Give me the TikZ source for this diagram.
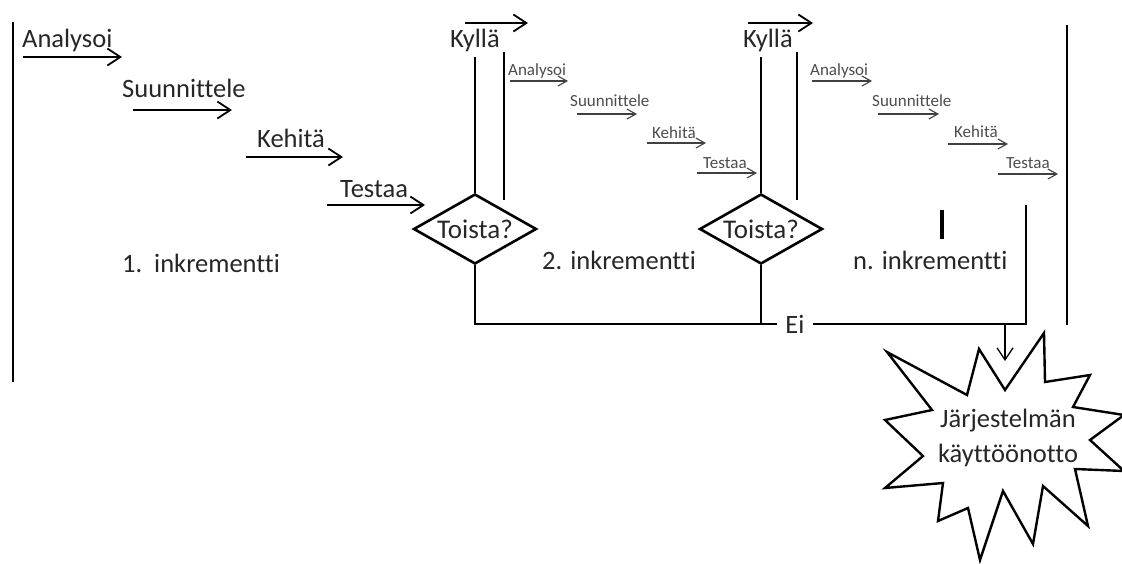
\documentclass[tikz,border=0pt]{standalone}
\usepackage{fontspec}
\setmainfont{Carlito}[Ligatures={NoCommon}]
\usetikzlibrary{arrows.meta,shapes.geometric}
\begin{document}
\begin{tikzpicture}[x=1pt,y=-1pt,
  big/.style={font=\fontsize{26.5}{30}\selectfont, text=black!85, inner sep=0pt, anchor=base west},
  small/.style={font=\fontsize{17}{19}\selectfont, text=black!70, inner sep=0pt, anchor=base west},
  bigarrow/.style={line width=1.8pt, -{Straight Barb[length=13pt,width=17pt]}},
  smallarrow/.style={line width=1.1pt, draw=black!75, -{Straight Barb[length=9pt,width=10pt]}},
  conn/.style={line width=1.8pt},
  dia/.style={diamond, draw, line width=2.6pt, aspect=1.74, inner sep=0pt,
    minimum width=123pt, minimum height=70pt, font=\fontsize{27}{30}\selectfont, text=black!85},
  lbl/.style={font=\fontsize{26.5}{30}\selectfont, text=black!85, inner sep=0pt, anchor=base west}
]
\useasboundingbox (0,0) rectangle (1122,563);

% frame lines
\coordinate (lt) at (13,22);  \coordinate (lb) at (13,382);
\draw[conn] (lt) -- (lb);
\coordinate (rt) at (1067,25); \coordinate (rb) at (1067,325);
\draw[conn] (rt) -- (rb);

% first increment steps
\foreach \nm/\txt/\tx/\ty/\ax/\bx/\ay in {
  a1/Analysoi/22/47/23/122/57,
  s1/Suunnittele/122/97/133/232/110,
  k1/Kehitä/257/147/246/343/157,
  t1/Testaa/340/197/327/425/205}{
  \node[big] (\nm) at (\tx,\ty) {\txt};
  \coordinate (\nm s) at (\ax,\ay);
  \coordinate (\nm e) at (\bx,\ay);
  \draw[bigarrow] (\nm s) -- (\nm e);
}

% small steps (2nd and n-th increment)
\foreach \nm/\txt/\tx/\ty/\ax/\bx/\ay in {
  a2/Analysoi/508/75/510/568/81,
  s2/Suunnittele/570/106/577/637/114,
  k2/Kehitä/652/138/647/706/143,
  t2/Testaa/703/168/697/757/173,
  a3/Analysoi/810/75/812/872/81,
  s3/Suunnittele/872/106/878/939/114,
  k3/Kehitä/954/137/948/1008/144,
  t3/Testaa/1006/168/998/1058/174}{
  \node[small] (\nm) at (\tx,\ty) {\txt};
  \coordinate (\nm s) at (\ax,\ay);
  \coordinate (\nm e) at (\bx,\ay);
  \draw[smallarrow] (\nm s) -- (\nm e);
}

% decisions
\node[dia] (d1) at (475,229) {Toista?};
\node[dia] (d2) at (761,229) {Toista?};

% Kyllä loops
\node[big] (ky1) at (450,47) {Kyllä};
\node[big] (ky2) at (743,47) {Kyllä};
\coordinate (ky1s) at (465,23); \coordinate (ky1e) at (528,23);
\coordinate (ky2s) at (748,23); \coordinate (ky2e) at (813,23);
\draw[bigarrow] (ky1s) -- (ky1e);
\draw[bigarrow] (ky2s) -- (ky2e);
\coordinate (u1) at (475,57);
\coordinate (u2) at (761,57);
\draw[conn] (u1) -- (d1.north);
\draw[conn] (u2) -- (d2.north);
\coordinate (v1t) at (504,52); \coordinate (v1b) at (504,200);
\coordinate (v2t) at (797,52); \coordinate (v2b) at (797,200);
\draw[conn] (v1t) -- (v1b);
\draw[conn] (v2t) -- (v2b);

% increment labels
\node[lbl] (i1) at (122,272) {1.\hspace{0.45em}inkrementti};
\node[lbl] (i2) at (542,269) {2. inkrementti};
\node[lbl] (i3) at (853,269) {n. inkrementti};

% bar
\coordinate (bt) at (942,210); \coordinate (bb) at (942,239);
\draw[line width=4pt] (bt) -- (bb);

% Ei path
\node[font=\fontsize{26.5}{30}\selectfont, text=black!85, inner sep=0pt, minimum width=36pt] (ei) at (795,324) {Ei};
\coordinate (nend) at (1026,205);
\draw[conn] (d1.south) |- (ei.west);
\draw[conn] (d2.south) -- (d2.south |- ei.center);
\draw[conn] (ei.east) -| (nend);
\coordinate (dwn) at (1005,324);
\coordinate (dwe) at (1005,361);
\draw[line width=1.3pt, -{Straight Barb[length=12pt,width=16pt]}] (dwn) -- (dwe);

% star
\draw[line width=2.4pt, line join=miter, fill=white]
  (887,352) -- (967,395) -- (979,349) -- (1005,390) -- (1044,333) --
  (1045,382) -- (1090,375) -- (1073,407) -- (1124,415) -- (1090,440) --
  (1124,471) -- (1075,469) -- (1088,526) -- (1043,486) -- (1033,544) --
  (1003,491) -- (980,560) -- (968,508) -- (938,521) -- (943,483) --
  (885,488) -- (923,456) -- (885,420) -- (932,410) -- cycle;
\node[font=\fontsize{26.5}{35}\selectfont, text=black!85, align=center, inner sep=0pt] (star) at (1008,438)
  {Järjestelmän\\käyttöönotto};
\end{tikzpicture}
\end{document}
